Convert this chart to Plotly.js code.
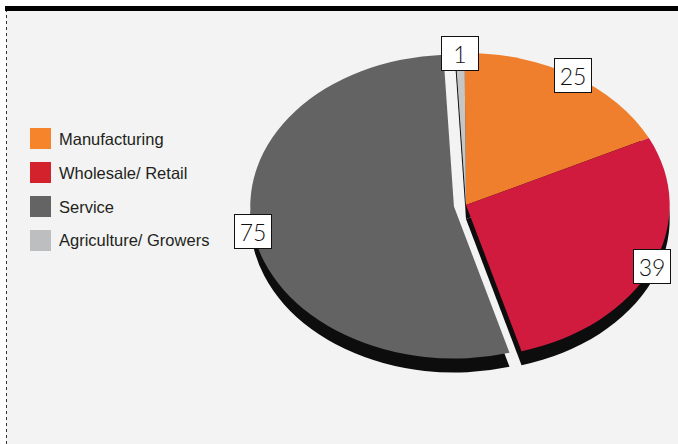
<!DOCTYPE html>
<html>
<head>
<meta charset="utf-8">
<script src="https://cdn.plot.ly/plotly-3.0.1.min.js"></script>
<style>
  html, body { margin: 0; padding: 0; background: #ffffff; }
  #chart { width: 678px; height: 444px; }
</style>
</head>
<body>
<div id="chart"></div>
<script>
// ---- data ----
const categories = ['Manufacturing', 'Wholesale/ Retail', 'Service', 'Agriculture/ Growers'];
const values = [25, 39, 75, 1];

// ---- styles ----
const sliceColors = ['#f07f2d', '#d01b3e', '#636363', '#c6c6c6'];
const legendColors = ['#f5842a', '#d4222d', '#646464', '#bdbebf'];
const shadowColor = '#0d0d0d';
const pulls = [0, 0, 0.06, 0];

const W = 678, H = 444;
const cxPx = 466, cyPx = 205, rPx = 152;   // pie centre / radius (px)
const sx = 1.34;                           // horizontal stretch for tilted look
const depth = 14;                          // thickness of the pie (px)
const rotation = -0.4;

const maxPull = Math.max(...pulls);
const half = rPx * (1 + maxPull);
const domX = [(cxPx - half) / W, (cxPx + half) / W];
const domY = [1 - (cyPx + half) / H, 1 - (cyPx - half) / H];
const domYShadow = [domY[0] - depth / H, domY[1] - depth / H];

const common = {
  type: 'pie',
  labels: categories,
  values: values,
  sort: false,
  direction: 'clockwise',
  rotation: rotation,
  pull: pulls,
  textinfo: 'none',
  hoverinfo: 'label+value',
  showlegend: false,
  domain: { x: domX, y: domY }
};

const shadowPie = Object.assign({}, common, {
  marker: { colors: categories.map(() => shadowColor), line: { width: 0 } },
  domain: { x: domX, y: domYShadow },
  hoverinfo: 'skip'
});
const facePie = Object.assign({}, common, {
  marker: { colors: sliceColors, line: { width: 0 } }
});

// value labels on the rim at each slice's mid-angle
const total = values.reduce((a, b) => a + b, 0);
const annotations = [];
let ang = rotation;
values.forEach((v, i) => {
  const sweep = 360 * v / total;
  const mid = (ang + sweep / 2) * Math.PI / 180;
  ang += sweep;
  const rr = rPx * (1 + pulls[i]);
  const px = cxPx + rr * Math.sin(mid) * sx;
  const py = cyPx - rr * Math.cos(mid);
  annotations.push({
    xref: 'paper', yref: 'paper', x: px / W, y: 1 - py / H,
    xanchor: 'center', yanchor: 'middle', showarrow: false,
    text: String(v),
    font: { family: 'Lato, "Open Sans", sans-serif', size: 23, weight: 300, color: '#111' },
    bgcolor: '#ffffff', bordercolor: '#111111', borderwidth: 1,
    borderpad: 2, width: 32, height: 29
  });
});

// background, frame and custom legend
const shapes = [
  { type: 'rect', xref: 'paper', yref: 'paper', x0: 6 / W, x1: 1, y0: 0, y1: 1 - 11 / H,
    fillcolor: '#f2f3f2', line: { width: 0 }, layer: 'below' },
  { type: 'rect', xref: 'paper', yref: 'paper', x0: 5 / W, x1: 1, y0: 1 - 11 / H, y1: 1 - 6 / H,
    fillcolor: '#000000', line: { width: 0 }, layer: 'below' },
  { type: 'line', xref: 'paper', yref: 'paper', x0: 6.5 / W, x1: 6.5 / W, y0: 0, y1: 1 - 11 / H,
    line: { color: '#333333', width: 1, dash: 'dot' }, layer: 'below' }
];
const legX = 30, legY0 = 128, legStep = 34, sw = 21;
categories.forEach((c, i) => {
  const y = legY0 + i * legStep;
  shapes.push({ type: 'rect', xref: 'paper', yref: 'paper',
    x0: legX / W, x1: (legX + sw) / W, y0: 1 - (y + sw) / H, y1: 1 - y / H,
    fillcolor: legendColors[i], line: { width: 0 }, layer: 'below' });
  annotations.push({ xref: 'paper', yref: 'paper', x: (legX + 27) / W, y: 1 - (y + sw / 2) / H,
    xanchor: 'left', yanchor: 'middle', showarrow: false, text: c,
    font: { family: '"Liberation Sans", Arial, sans-serif', size: 16.5, color: '#231f20' } });
});

const layout = {
  width: W, height: H,
  margin: { l: 0, r: 0, t: 0, b: 0 },
  paper_bgcolor: '#ffffff',
  showlegend: false,
  shapes: shapes,
  annotations: annotations
};

Plotly.newPlot('chart', [shadowPie, facePie], layout, { displayModeBar: false, staticPlot: true }).then(() => {
  const g = document.querySelector('.pielayer');
  if (g) g.setAttribute('transform',
    'translate(' + cxPx + ',0) scale(' + sx + ',1) translate(' + (-cxPx) + ',0)');
});
</script>
</body>
</html>
